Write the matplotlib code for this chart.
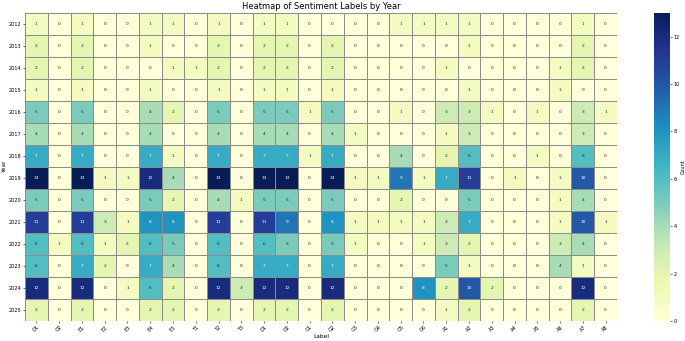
import matplotlib
matplotlib.use('Agg')
import matplotlib.pyplot as plt
import numpy as np
import pandas as pd
import seaborn as sns

years = list(range(2012, 2026))
labels = ['O1', 'O2', 'E1', 'E2', 'E3', 'E4', 'E5', 'T1', 'T2', 'T3', 'D1', 'D2', 'G1',
          'G2', 'G3', 'G4', 'G5', 'G6', 'A1', 'A2', 'A3', 'A4', 'A5', 'A6', 'A7', 'A8']

# counts per year, columns in the order of labels
c2012 = [1, 0, 1, 0, 0, 1, 1, 0, 1, 0, 1, 1, 0, 0, 0, 0, 1, 1, 1, 1, 0, 0, 0, 0, 1, 0]
c2013 = [2, 0, 2, 0, 0, 1, 0, 0, 2, 0, 2, 2, 0, 2, 0, 0, 0, 0, 0, 1, 0, 0, 0, 0, 2, 0]
c2014 = [2, 0, 2, 0, 0, 0, 1, 1, 2, 0, 2, 2, 0, 2, 0, 0, 0, 0, 1, 0, 0, 0, 0, 1, 2, 0]
c2015 = [1, 0, 1, 0, 0, 1, 0, 0, 1, 0, 1, 1, 0, 1, 0, 0, 0, 0, 0, 1, 0, 0, 0, 1, 0, 0]
c2016 = [5, 0, 5, 0, 0, 4, 2, 0, 5, 0, 5, 5, 1, 5, 0, 0, 1, 0, 3, 3, 1, 0, 1, 0, 3, 1]
c2017 = [4, 0, 4, 0, 0, 4, 0, 0, 4, 0, 4, 4, 0, 4, 1, 0, 0, 0, 1, 3, 0, 0, 0, 0, 3, 0]
c2018 = [7, 0, 7, 0, 0, 7, 1, 0, 7, 0, 7, 7, 1, 7, 0, 0, 4, 0, 2, 6, 0, 0, 1, 0, 6, 0]
c2019 = [13, 0, 13, 1, 1, 12, 4, 0, 13, 0, 13, 13, 0, 13, 1, 1, 9, 1, 7, 11, 0, 1, 0, 1, 10, 0]
c2020 = [5, 0, 5, 0, 0, 5, 2, 0, 4, 1, 5, 5, 0, 5, 0, 0, 2, 0, 0, 5, 0, 0, 0, 1, 4, 0]
c2021 = [11, 0, 11, 3, 1, 8, 8, 0, 11, 0, 11, 9, 0, 8, 1, 1, 1, 1, 3, 7, 0, 0, 0, 1, 10, 1]
c2022 = [6, 1, 6, 1, 2, 6, 5, 0, 6, 0, 6, 5, 0, 5, 1, 0, 0, 1, 3, 2, 0, 0, 0, 3, 4, 0]
c2023 = [6, 0, 7, 2, 0, 7, 4, 0, 6, 0, 7, 7, 0, 7, 0, 0, 0, 0, 5, 1, 0, 0, 0, 4, 1, 0]
c2024 = [12, 0, 12, 0, 1, 6, 2, 0, 12, 3, 12, 12, 0, 12, 0, 0, 0, 8, 2, 10, 2, 0, 0, 0, 12, 0]
c2025 = [2, 0, 2, 0, 0, 2, 2, 0, 2, 0, 2, 2, 0, 2, 0, 0, 0, 0, 1, 2, 0, 0, 0, 0, 2, 0]

counts = [c2012, c2013, c2014, c2015, c2016, c2017, c2018,
          c2019, c2020, c2021, c2022, c2023, c2024, c2025]
df = pd.DataFrame(counts, index=years, columns=labels)

fig = plt.figure(figsize=(6.85, 3.41), dpi=100)
ax = fig.add_axes([25 / 685, 20 / 341, 592 / 685, 308 / 341])
cax = fig.add_axes([654 / 685, 20 / 341, 16 / 685, 308 / 341])

sns.heatmap(df, ax=ax, cbar_ax=cax, cmap='YlGnBu', annot=True, fmt='d',
            annot_kws={'fontsize': 3.2}, linewidths=0.6, linecolor='#8c8c8c',
            cbar_kws={'label': 'Count'})

ax.set_title('Heatmap of Sentiment Labels by Year', fontsize=6, pad=3)
ax.set_xlabel('Label', fontsize=4.2, labelpad=1)
ax.set_ylabel('Year', fontsize=4.2, labelpad=1)
ax.tick_params(axis='both', labelsize=3.6, length=1.5, width=0.4, pad=1)
plt.setp(ax.get_xticklabels(), rotation=45)
plt.setp(ax.get_yticklabels(), rotation=0)

cax.tick_params(labelsize=3.6, length=1.5, width=0.4, pad=1)
cax.yaxis.label.set_size(3.6)
cax.yaxis.labelpad = 1
ax.collections[0].colorbar.outline.set_visible(False)

fig.savefig('out.png', dpi=100)
